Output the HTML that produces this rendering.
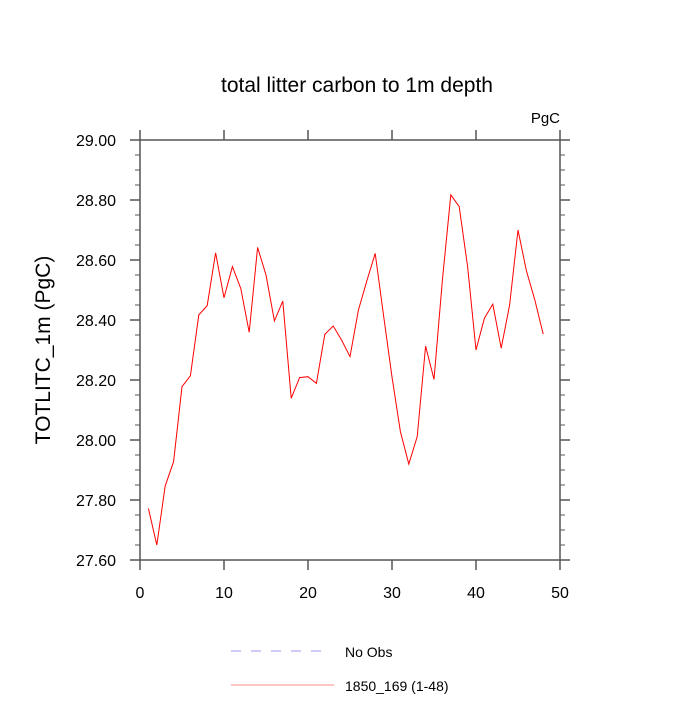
<!DOCTYPE html>
<html><head><meta charset="utf-8"><style>
body{margin:0;background:#fff;}
svg text{font-family:"Liberation Sans",sans-serif;fill:#000;}
</style></head><body>
<svg id="chart" width="700" height="700" viewBox="0 0 700 700">
<text x="357" y="92" font-size="21" text-anchor="middle">total litter carbon to 1m depth</text>
<text x="560" y="123" font-size="15" text-anchor="end">PgC</text>
<text transform="translate(50,350) rotate(-90)" font-size="21" text-anchor="middle">TOTLITC_1m  (PgC)</text>
<g id="axes"></g>
<g id="series"></g>
<g>
<line x1="231" y1="651" x2="328" y2="651" stroke="#9999ee" stroke-width="1" stroke-dasharray="10,10"/>
<text x="345" y="657" font-size="14">No Obs</text>
<line x1="231" y1="685" x2="334" y2="685" stroke="#ff8888" stroke-width="1"/>
<text x="345" y="691" font-size="14">1850_169 (1-48)</text>
</g>
</svg>
<script>
const years=[1,2,3,4,5,6,7,8,9,10,11,12,13,14,15,16,17,18,19,20,21,22,23,24,25,26,27,28,29,30,31,32,33,34,35,36,37,38,39,40,41,42,43,44,45,46,47,48];
const values=[27.772,27.65,27.847,27.928,28.178,28.214,28.417,28.448,28.624,28.474,28.578,28.505,28.359,28.642,28.55,28.397,28.463,28.139,28.208,28.211,28.189,28.352,28.38,28.333,28.278,28.433,28.53,28.622,28.414,28.21,28.028,27.92,28.011,28.313,28.202,28.533,28.817,28.778,28.578,28.3,28.406,28.453,28.306,28.45,28.70,28.564,28.467,28.353];
const xTicks=[0,10,20,30,40,50];
const yTicks=[27.6,27.8,28.0,28.2,28.4,28.6,28.8,29.0];
const xMin=0,xMax=50,yMin=27.6,yMax=29.0;
const L=140,R=560,T=140,B=560;
const NS='http://www.w3.org/2000/svg';
function sx(v){return L+(v-xMin)/(xMax-xMin)*(R-L);}
function sy(v){return B-(v-yMin)/(yMax-yMin)*(B-T);}
function mk(tag,attrs,parent){const e=document.createElementNS(NS,tag);for(const k in attrs)e.setAttribute(k,attrs[k]);parent.appendChild(e);return e;}
const ax=document.getElementById('axes');
const frame=mk('rect',{x:L,y:T,width:R-L,height:B-T,fill:'none',stroke:'#555','stroke-width':1.5},ax);


xTicks.forEach(t=>{
  const x=sx(t);
  const b=mk('line',{x1:x,y1:B,x2:x,y2:B+10,stroke:'#555','stroke-width':1.5},ax);
  
  
  const tp=mk('line',{x1:x,y1:T,x2:x,y2:T-10,stroke:'#555','stroke-width':1.5},ax);
  
  
  const lb=mk('text',{x:x,y:598,'font-size':16,'text-anchor':'middle'},ax);
  lb.textContent=t;
  
  
});
for(let v=yMin;v<=yMax+1e-9;v+=0.05){
  const y=sy(v);
  const major=Math.abs((v-yMin)/0.2-Math.round((v-yMin)/0.2))<1e-6;
  const len=major?10:5;
  const a=mk('line',{x1:L,y1:y,x2:L-len,y2:y,stroke:'#555','stroke-width':major?1.5:1},ax);
  
  
  const c=mk('line',{x1:R,y1:y,x2:R+len,y2:y,stroke:'#555','stroke-width':major?1.5:1},ax);
  
  
}
yTicks.forEach(t=>{
  const lb=mk('text',{x:116,y:sy(t)+6,'font-size':16,'text-anchor':'end'},ax);
  lb.textContent=t.toFixed(2);
  
  
});
const pts=years.map((yr,i)=>sx(yr).toFixed(2)+','+sy(values[i]).toFixed(2)).join(' ');
const line=mk('polyline',{points:pts,fill:'none',stroke:'#ff0000','stroke-width':1},document.getElementById('series'));


</script>
</body></html>
